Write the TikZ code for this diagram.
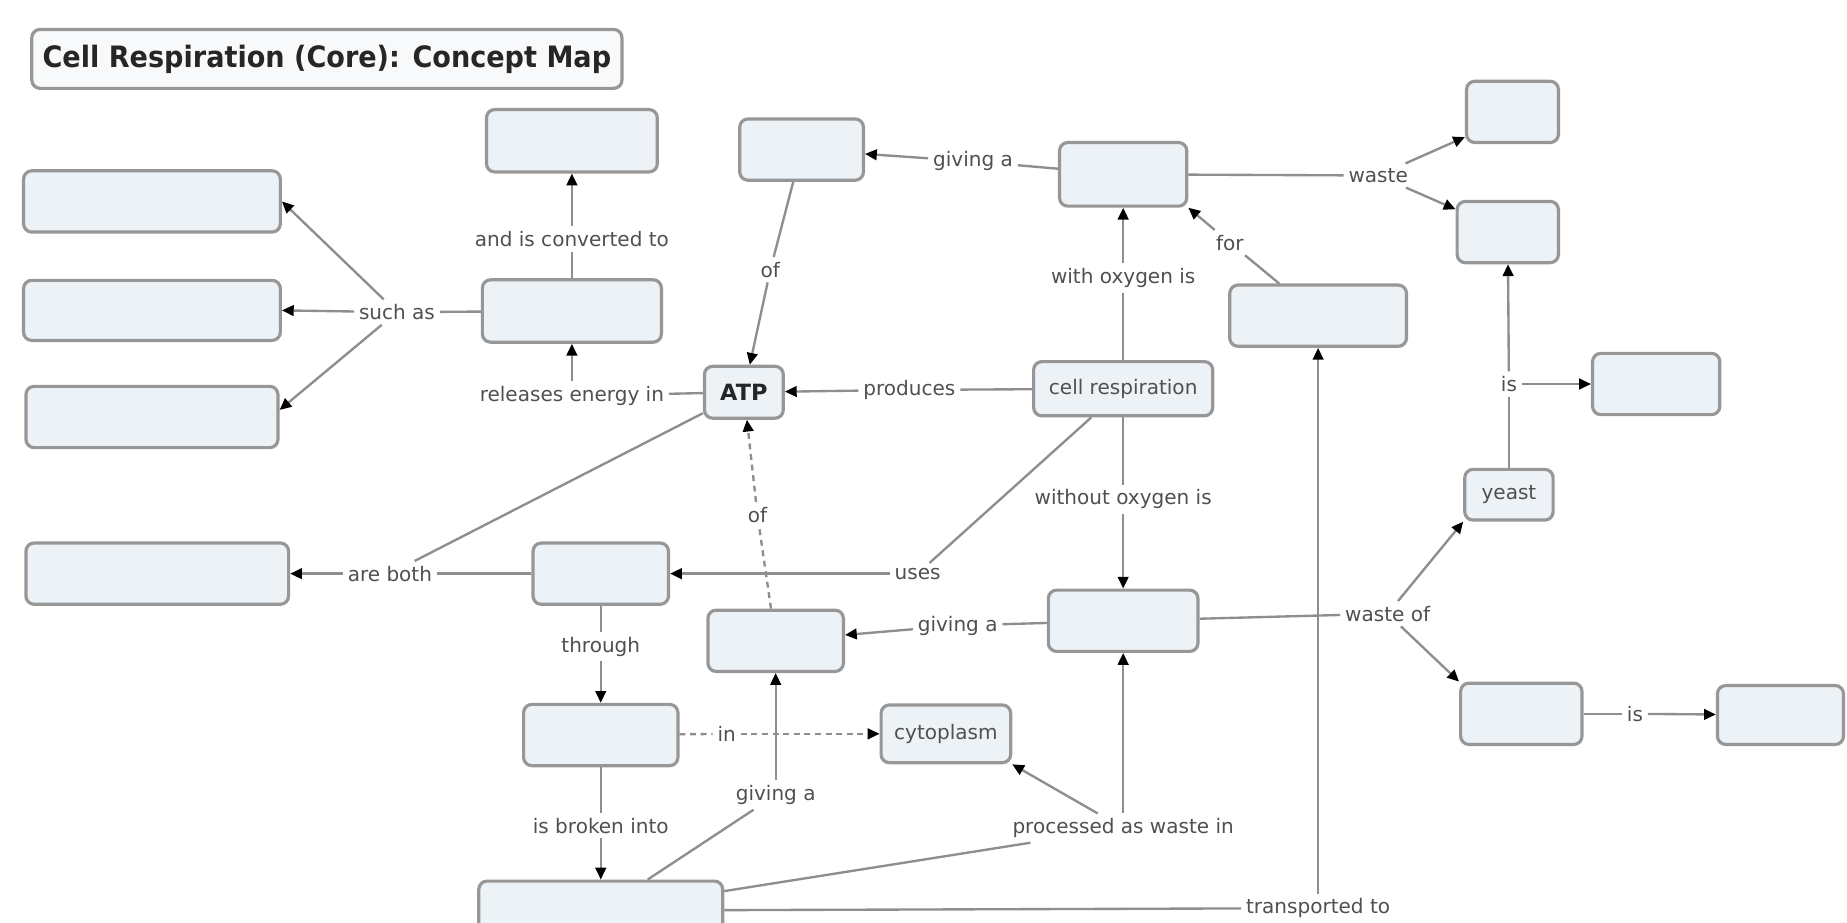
\documentclass[tikz,border=0pt]{standalone}
\usepackage{fontspec}
\setmainfont{DejaVu Sans}
\usetikzlibrary{arrows.meta}
\definecolor{boxfill}{HTML}{EDF2F6}
\definecolor{boxdraw}{HTML}{979797}
\definecolor{linec}{HTML}{8E8E8E}
\definecolor{labc}{HTML}{505050}
\definecolor{darkt}{HTML}{262626}
\begin{document}
\begin{tikzpicture}[x=1pt,y=-1pt,
  cbox/.style={draw=boxdraw, fill=boxfill, line width=2.7pt, rounded corners=7pt, inner sep=0pt,
     text=labc, font=\fontsize{17}{20}\selectfont},
  lab/.style={text=labc, font=\fontsize{17}{20}\selectfont, inner sep=4pt},
  conn/.style={draw=linec, line width=2pt},
  arr/.style={conn, -{Triangle[length=10pt,width=9pt,color=black]}},
  dconn/.style={conn, dash pattern=on 5pt off 4pt},
  darr/.style={dconn, -{Triangle[length=10pt,width=9pt,color=black]}}]
\clip (0,0) rectangle (1568,783);
\fill[white] (0,0) rectangle (1568,783);

% title
\node[cbox, fill=white!55!boxfill, minimum width=501pt, minimum height=50pt, text=darkt] (title) at (277.5,50)
  {\fontsize{25}{30}\selectfont\bfseries\scalebox{0.92}[1]{Cell Respiration (Core): Concept Map}};

% concept boxes
\node[cbox, minimum width=145pt, minimum height=53pt] (A1) at (485.5,119.5) {};
\node[cbox, minimum width=218pt, minimum height=52pt] (L1) at (129,171) {};
\node[cbox, minimum width=218pt, minimum height=51pt] (L2) at (129,263.5) {};
\node[cbox, minimum width=214pt, minimum height=52pt] (L3) at (129,354) {};
\node[cbox, minimum width=152pt, minimum height=53pt] (M) at (485.5,264) {};
\node[cbox, minimum width=67pt, minimum height=44pt, text=darkt] (ATP) at (631.5,333) {\fontsize{19}{22}\selectfont\bfseries ATP};
\node[cbox, minimum width=105pt, minimum height=52pt] (TL) at (680.5,127) {};
\node[cbox, minimum width=108pt, minimum height=54pt] (TM) at (953.5,148) {};
\node[cbox, minimum width=152pt, minimum height=46pt] (CR) at (953.5,330) {cell respiration};
\node[cbox, minimum width=78pt, minimum height=52pt] (R1) at (1284,95) {};
\node[cbox, minimum width=86pt, minimum height=52pt] (R2) at (1280,197) {};
\node[cbox, minimum width=150pt, minimum height=52pt] (FB) at (1119,268) {};
\node[cbox, minimum width=108pt, minimum height=52pt] (R3) at (1406,326) {};
\node[cbox, minimum width=75pt, minimum height=43pt] (Y) at (1281,420) {yeast};
\node[cbox, minimum width=223pt, minimum height=52pt] (LB) at (133.5,487) {};
\node[cbox, minimum width=115pt, minimum height=52pt] (U) at (510,487) {};
\node[cbox, minimum width=115pt, minimum height=52pt] (LA) at (658.5,544) {};
\node[cbox, minimum width=127pt, minimum height=52pt] (AN) at (953.5,527) {};
\node[cbox, minimum width=131pt, minimum height=52pt] (TH) at (510,624) {};
\node[cbox, minimum width=110pt, minimum height=49pt] (CY) at (803,623) {cytoplasm};
\node[cbox, minimum width=207pt, minimum height=50pt] (BT) at (510,773) {};
\node[cbox, minimum width=103pt, minimum height=52pt] (R4) at (1291.5,606) {};
\node[cbox, minimum width=107pt, minimum height=50pt] (R5) at (1511.5,607) {};

% linking phrases
\node[lab] (suchas) at (337,265) {such as};
\node[lab] (convto) at (485.5,203) {and is converted to};
\node[lab] (relin) at (485.5,336) {releases energy in};
\node[lab] (givA1) at (826,137) {giving a};
\node[lab] (ofTop) at (654,229) {of};
\node[lab] (produces) at (772,331) {produces};
\node[lab] (withoxy) at (953.5,236) {with oxygen is};
\node[lab] (for) at (1044,206) {for};
\node[lab] (waste) at (1170,149) {waste};
\node[lab] (isR) at (1281,326) {is};
\node[lab] (withoutoxy) at (953.5,424) {without oxygen is};
\node[lab] (ofDash) at (643,437) {of};
\node[lab] (areboth) at (331,487) {are both};
\node[lab] (uses) at (779,487) {uses};
\node[lab] (givA2) at (813,531) {giving a};
\node[lab] (wasteof) at (1178,521) {waste of};
\node[lab] (through) at (510,549) {through};
\node[lab] (in) at (617,623) {in};
\node[lab] (givA3) at (658.5,675) {giving a};
\node[lab] (broken) at (510,701) {is broken into};
\node[lab] (processed) at (953.5,703) {processed as waste in};
\node[lab] (transported) at (1119,771) {transported to};
\node[lab] (isR2) at (1388,606) {is};

% connections
\draw[conn] (M) -- (suchas);
\draw[arr] (suchas) -- (L1.east);
\draw[arr] (suchas) -- (L2.east);
\draw[arr] (suchas) -- ([yshift=6pt]L3.east);

\draw[conn] (M) -- (convto);
\draw[arr] (convto) -- (A1);

\draw[conn] (ATP) -- (relin);
\draw[arr] (relin) -- (M);

\draw[conn] (TM) -- (givA1);
\draw[arr] (givA1) -- (TL);

\draw[conn] (TL) -- (ofTop);
\draw[arr] (ofTop) -- (ATP);

\draw[conn] (CR) -- (produces);
\draw[arr] (produces) -- (ATP);

\draw[conn] (CR) -- (withoxy);
\draw[arr] (withoxy) -- (TM);

\draw[conn] (FB) -- (for);
\draw[arr] (for) -- (TM.south east);

\draw[conn] (TM) -- (waste);
\draw[arr] (waste) -- ([yshift=6pt]R1.south west);
\draw[arr] (waste) -- ([yshift=-8pt]R2.north west);

\draw[conn] (Y) -- (isR);
\draw[arr] (isR) -- (R2);
\draw[arr] (isR) -- (R3);

\draw[conn] (CR) -- (withoutoxy);
\draw[arr] (withoutoxy) -- (AN);

\draw[dconn] (LA) -- (ofDash);
\draw[darr] (ofDash) -- (ATP);

\draw[conn] (ATP) -- (areboth);
\draw[conn] (U) -- (areboth);
\draw[arr] (areboth) -- (LB);

\draw[conn] (CR) -- (uses);
\draw[arr] (uses) -- (U);

\draw[conn] (AN) -- (givA2);
\draw[arr] (givA2) -- (LA);

\draw[conn] (AN) -- (wasteof);
\draw[arr] (wasteof) -- (Y.south west);
\draw[arr] (wasteof) -- (R4.north west);

\draw[conn] (U) -- (through);
\draw[arr] (through) -- (TH);

\draw[dconn] (TH) -- (in);
\draw[darr] (in) -- (CY);

\draw[conn] (TH) -- (broken);
\draw[arr] (broken) -- (BT);

\draw[conn] (BT) -- (givA3);
\draw[arr] (givA3) -- (LA);

\draw[conn] (BT) -- (processed);
\draw[arr] (processed) -- (CY.south east);
\draw[arr] (processed) -- (AN);

\draw[conn] (BT) -- (transported);
\draw[arr] (transported) -- (FB);

\draw[conn] (R4) -- (isR2);
\draw[arr] (isR2) -- (R5);
\end{tikzpicture}
\end{document}
